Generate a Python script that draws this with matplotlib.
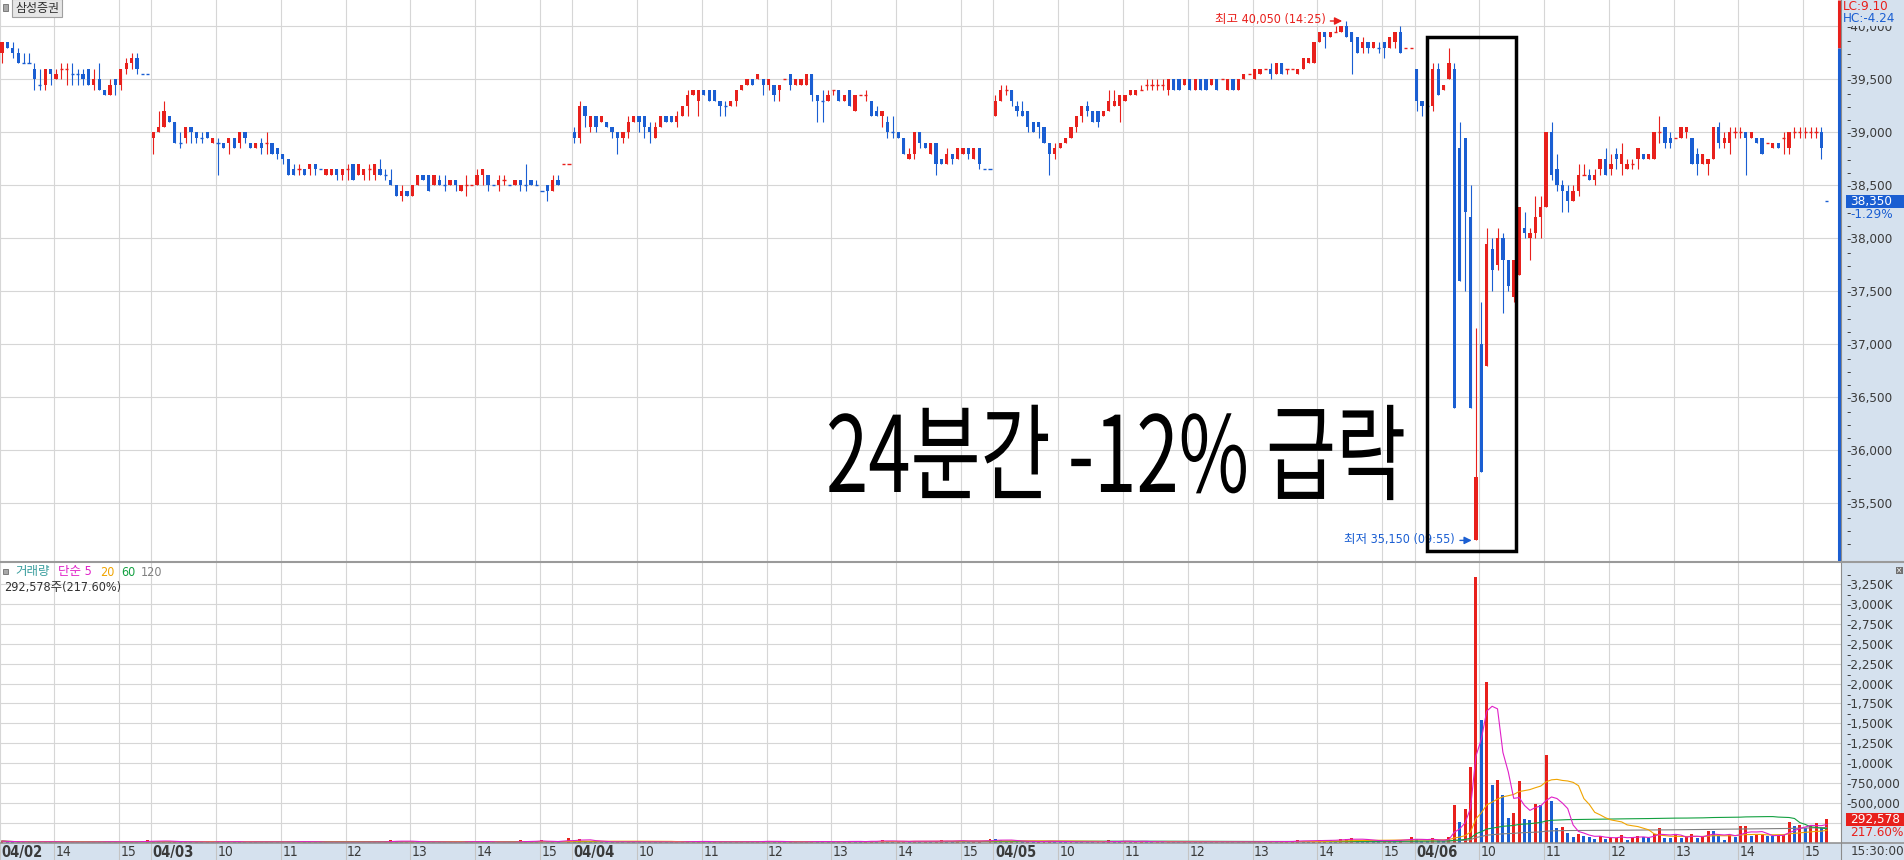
import numpy as np
import pandas as pd
import matplotlib
matplotlib.use("Agg")
import matplotlib.pyplot as plt
import matplotlib.transforms as mtransforms
from matplotlib.patches import Rectangle
from matplotlib.lines import Line2D
from matplotlib.ticker import FixedLocator, FuncFormatter
from matplotlib.patheffects import AbstractPathEffect
from matplotlib import font_manager

# ---------------- data (5-minute candles, Samsung Securities) ----------------
day_labels = ["04/02", "04/03", "04/04", "04/05", "04/06"]
day_first_time = ["13:10", "09:00", "09:00", "09:00", "09:00"]
day_slots = [28, 78, 78, 78, 78]

# (open, high, low, close) per 5-minute candle
ohlc_0402 = [
    (39750, 39850, 39650, 39850), (39850, 39850, 39800, 39800), (39800, 39850, 39700, 39750),
    (39750, 39800, 39650, 39650), (39650, 39750, 39650, 39650), (39650, 39750, 39650, 39650),
    (39600, 39650, 39400, 39500), (39450, 39600, 39400, 39450), (39450, 39600, 39400, 39600),
    (39600, 39600, 39450, 39550), (39500, 39600, 39500, 39550), (39600, 39650, 39500, 39600),
    (39600, 39650, 39450, 39600), (39550, 39650, 39450, 39550), (39550, 39600, 39450, 39550),
    (39550, 39600, 39450, 39500), (39600, 39600, 39450, 39450), (39450, 39600, 39400, 39500),
    (39500, 39650, 39400, 39400), (39400, 39400, 39350, 39350), (39350, 39500, 39350, 39450),
    (39500, 39500, 39350, 39450), (39450, 39600, 39400, 39600), (39600, 39700, 39550, 39650),
    (39650, 39750, 39600, 39700), (39700, 39750, 39550, 39600),
]
ohlc_0403 = [
    (38950, 39000, 38800, 39000), (39000, 39200, 39000, 39050), (39050, 39300, 39050, 39200),
    (39150, 39150, 39100, 39100), (39100, 39100, 38900, 38900), (38900, 39000, 38850, 38900),
    (38950, 39050, 38900, 39050), (39050, 39050, 38900, 39000), (39000, 39000, 38900, 38950),
    (38950, 39000, 38900, 38950), (39000, 39000, 38950, 38950), (38900, 38950, 38900, 38950),
    (38900, 38950, 38600, 38900), (38900, 38900, 38850, 38850), (38900, 38950, 38800, 38950),
    (38950, 38950, 38850, 38850), (38900, 39000, 38850, 39000), (39000, 39000, 38900, 38950),
    (38900, 38900, 38850, 38850), (38850, 38900, 38850, 38900), (38900, 38950, 38800, 38850),
    (38900, 39000, 38800, 38900), (38900, 38900, 38800, 38800), (38850, 38850, 38750, 38800),
    (38800, 38800, 38700, 38750), (38750, 38750, 38600, 38600), (38650, 38700, 38600, 38600),
    (38650, 38700, 38600, 38650), (38650, 38650, 38600, 38600), (38650, 38700, 38600, 38700),
    (38700, 38700, 38600, 38650), (38650, 38650, 38650, 38650), (38600, 38650, 38600, 38650),
    (38600, 38650, 38600, 38650), (38650, 38650, 38550, 38600), (38600, 38650, 38550, 38650),
    (38650, 38700, 38550, 38650), (38700, 38700, 38550, 38550), (38600, 38700, 38600, 38700),
    (38600, 38650, 38550, 38650), (38650, 38700, 38550, 38650), (38600, 38700, 38550, 38700),
    (38650, 38750, 38600, 38600), (38600, 38650, 38550, 38600), (38550, 38650, 38500, 38500),
    (38500, 38500, 38400, 38400), (38400, 38500, 38350, 38450), (38450, 38450, 38400, 38400),
    (38400, 38500, 38400, 38500), (38500, 38600, 38500, 38600), (38600, 38600, 38550, 38550),
    (38600, 38600, 38450, 38450), (38500, 38600, 38500, 38600), (38550, 38600, 38500, 38500),
    (38500, 38600, 38450, 38500), (38500, 38550, 38500, 38550), (38550, 38550, 38450, 38500),
    (38450, 38500, 38450, 38500), (38500, 38600, 38400, 38500), (38500, 38500, 38500, 38500),
    (38500, 38650, 38500, 38600), (38600, 38650, 38500, 38650), (38600, 38600, 38450, 38500),
    (38500, 38500, 38500, 38500), (38500, 38600, 38450, 38550), (38550, 38600, 38500, 38550),
    (38500, 38500, 38500, 38500), (38500, 38550, 38500, 38550), (38550, 38550, 38450, 38500),
    (38500, 38700, 38450, 38500), (38550, 38550, 38500, 38500), (38500, 38550, 38500, 38500),
    (38450, 38450, 38450, 38450), (38500, 38500, 38350, 38450), (38450, 38600, 38450, 38550),
    (38550, 38600, 38500, 38500),
]
ohlc_0404 = [
    (39000, 39050, 38900, 38950), (38950, 39300, 38900, 39250), (39250, 39250, 39050, 39150),
    (39050, 39150, 39000, 39150), (39150, 39150, 39000, 39050), (39100, 39150, 39100, 39150),
    (39100, 39100, 39050, 39050), (39050, 39050, 38950, 39000), (39000, 39000, 38800, 38950),
    (38950, 39000, 38900, 39000), (39000, 39150, 38950, 39100), (39100, 39150, 39100, 39150),
    (39150, 39150, 39000, 39100), (39150, 39150, 38950, 39050), (39050, 39100, 38900, 39000),
    (38950, 39100, 38950, 39050), (39050, 39150, 39050, 39150), (39150, 39150, 39100, 39100),
    (39150, 39150, 39100, 39100), (39100, 39200, 39050, 39150), (39150, 39250, 39150, 39250),
    (39250, 39400, 39150, 39350), (39350, 39400, 39350, 39400), (39300, 39400, 39150, 39400),
    (39400, 39400, 39350, 39350), (39400, 39400, 39300, 39300), (39400, 39400, 39300, 39300),
    (39300, 39300, 39150, 39250), (39250, 39300, 39150, 39250), (39250, 39300, 39250, 39300),
    (39300, 39400, 39250, 39400), (39400, 39450, 39400, 39450), (39450, 39500, 39450, 39500),
    (39500, 39500, 39450, 39450), (39500, 39550, 39500, 39550), (39500, 39500, 39350, 39450),
    (39450, 39500, 39400, 39500), (39450, 39450, 39300, 39350), (39400, 39450, 39300, 39450),
    (39500, 39500, 39500, 39500), (39550, 39550, 39400, 39450), (39450, 39500, 39450, 39500),
    (39450, 39500, 39450, 39500), (39450, 39550, 39450, 39550), (39550, 39550, 39300, 39350),
    (39350, 39350, 39100, 39300), (39300, 39400, 39100, 39300), (39300, 39400, 39300, 39350),
    (39400, 39400, 39350, 39400), (39400, 39400, 39300, 39300), (39300, 39350, 39300, 39350),
    (39400, 39400, 39250, 39250), (39200, 39350, 39200, 39350), (39350, 39350, 39350, 39350),
    (39350, 39400, 39300, 39350), (39300, 39300, 39150, 39150), (39200, 39250, 39150, 39150),
    (39150, 39200, 39050, 39200), (39100, 39150, 38950, 39000), (39000, 39150, 38950, 39000),
    (39000, 39000, 38950, 38950), (38950, 38950, 38800, 38800), (38750, 38850, 38750, 38800),
    (38800, 39000, 38750, 39000), (39000, 39000, 38850, 38900), (38900, 38900, 38850, 38850),
    (38800, 38900, 38800, 38900), (38900, 38900, 38600, 38700), (38750, 38750, 38700, 38700),
    (38700, 38850, 38700, 38800), (38800, 38800, 38700, 38750), (38750, 38850, 38750, 38850),
    (38800, 38850, 38800, 38850), (38850, 38850, 38750, 38800), (38750, 38850, 38750, 38850),
    (38850, 38850, 38650, 38700),
]
ohlc_0405 = [
    (39150, 39350, 39150, 39300), (39300, 39450, 39300, 39400), (39400, 39450, 39350, 39400),
    (39400, 39400, 39250, 39300), (39250, 39300, 39150, 39200), (39200, 39300, 39150, 39150),
    (39200, 39200, 39000, 39050), (39100, 39100, 39000, 39000), (39100, 39100, 38950, 39050),
    (39050, 39050, 38900, 38900), (38900, 38900, 38600, 38800), (38800, 38900, 38750, 38850),
    (38850, 38900, 38850, 38900), (38900, 38950, 38900, 38950), (38950, 39050, 38950, 39050),
    (39050, 39150, 39000, 39150), (39150, 39250, 39100, 39250), (39250, 39300, 39150, 39200),
    (39200, 39200, 39100, 39100), (39200, 39200, 39050, 39100), (39150, 39200, 39150, 39200),
    (39200, 39400, 39200, 39300), (39250, 39400, 39250, 39300), (39250, 39350, 39100, 39350),
    (39300, 39350, 39300, 39350), (39350, 39400, 39350, 39400), (39350, 39400, 39350, 39400),
    (39400, 39450, 39400, 39400), (39450, 39500, 39400, 39450), (39450, 39500, 39400, 39450),
    (39450, 39500, 39400, 39450), (39450, 39500, 39400, 39450), (39400, 39500, 39350, 39500),
    (39500, 39500, 39400, 39400), (39500, 39500, 39400, 39400), (39450, 39500, 39450, 39500),
    (39500, 39500, 39400, 39400), (39400, 39500, 39400, 39500), (39500, 39500, 39400, 39400),
    (39500, 39500, 39400, 39400), (39450, 39500, 39450, 39500), (39500, 39500, 39400, 39400),
    (39500, 39500, 39500, 39500), (39400, 39500, 39400, 39500), (39500, 39500, 39400, 39400),
    (39400, 39500, 39400, 39500), (39500, 39550, 39500, 39550), (39550, 39550, 39550, 39550),
    (39500, 39600, 39500, 39600), (39550, 39600, 39550, 39600), (39600, 39600, 39600, 39600),
    (39600, 39650, 39500, 39550), (39550, 39650, 39550, 39650), (39650, 39650, 39550, 39550),
    (39600, 39600, 39550, 39600), (39600, 39600, 39600, 39600), (39550, 39600, 39550, 39600),
    (39600, 39700, 39600, 39700), (39650, 39700, 39650, 39700), (39650, 39850, 39650, 39850),
    (39850, 39950, 39850, 39950), (39950, 39950, 39800, 39900), (39900, 39950, 39900, 39950),
    (39950, 40000, 39950, 39950), (39950, 40000, 39950, 40000), (40000, 40050, 39900, 39900),
    (39950, 39950, 39550, 39850), (39900, 39900, 39750, 39750), (39800, 39900, 39750, 39850),
    (39850, 39850, 39750, 39800), (39800, 39850, 39800, 39850), (39800, 39850, 39750, 39800),
    (39850, 39850, 39700, 39800), (39800, 39900, 39800, 39900), (39850, 39950, 39800, 39950),
    (39950, 40000, 39750, 39750),
]
ohlc_0406 = [
    (39600, 39600, 39200, 39300), (39300, 39300, 39150, 39250), (39250, 39250, 39250, 39250),
    (39250, 39650, 39200, 39600), (39600, 39650, 39350, 39350), (39400, 39450, 39400, 39450),
    (39500, 39800, 39500, 39650), (39600, 39650, 36400, 36400), (38850, 39100, 37600, 37600),
    (38950, 38950, 37500, 38250), (38200, 38500, 36400, 36400), (35150, 37150, 35150, 35750),
    (37000, 37400, 35800, 35800), (36800, 38100, 36800, 37950), (37900, 38000, 37500, 37700),
    (37750, 38100, 37700, 38000), (38000, 38050, 37300, 37800), (37800, 37800, 37500, 37550),
    (37450, 37800, 37400, 37800), (37650, 38300, 37650, 38300), (38100, 38250, 38000, 38050),
    (38000, 38100, 37800, 38050), (38050, 38400, 38000, 38200), (38200, 38400, 38000, 38300),
    (38300, 39000, 38300, 39000), (39000, 39100, 38550, 38600), (38650, 38800, 38450, 38500),
    (38500, 38550, 38250, 38450), (38450, 38500, 38250, 38350), (38350, 38500, 38350, 38450),
    (38450, 38700, 38400, 38600), (38600, 38700, 38600, 38600), (38600, 38650, 38550, 38550),
    (38550, 38650, 38500, 38600), (38650, 38750, 38600, 38750), (38750, 38850, 38600, 38600),
    (38650, 38800, 38600, 38700), (38800, 38850, 38650, 38750), (38700, 38900, 38600, 38800),
    (38650, 38750, 38650, 38700), (38700, 38750, 38650, 38700), (38750, 38850, 38650, 38850),
    (38800, 38800, 38750, 38750), (38750, 38800, 38750, 38800), (38750, 39000, 38750, 39000),
    (39000, 39150, 38900, 39000), (39050, 39050, 38850, 38900), (38950, 39000, 38850, 38900),
    (38950, 38950, 38950, 38950), (38950, 39050, 38950, 39050), (39000, 39050, 38950, 39050),
    (38950, 38950, 38700, 38700), (38800, 38850, 38600, 38700), (38700, 38800, 38700, 38800),
    (38700, 38750, 38600, 38750), (38750, 39050, 38750, 39050), (39050, 39100, 38850, 38900),
    (38900, 39000, 38850, 38950), (38900, 39050, 38800, 39000), (39000, 39050, 38950, 39000),
    (39000, 39050, 38950, 39000), (39000, 39000, 38600, 38950), (38950, 39000, 38950, 39000),
    (38950, 38950, 38900, 38900), (38950, 38950, 38800, 38800), (38900, 38900, 38900, 38900),
    (38850, 38900, 38850, 38900), (38900, 38900, 38850, 38850), (38950, 39000, 38800, 38950),
    (38850, 39000, 38800, 39000), (39000, 39050, 38950, 39000), (39000, 39050, 38950, 39000),
    (39000, 39050, 38950, 39000), (39000, 39050, 38950, 39000), (39000, 39050, 38950, 39000),
    (39000, 39050, 38750, 38850),
]
# closing single-price (15:20~) marks
close_auction = [39550, 38700, 38650, 39800, 38350]
n_auction = [2, 2, 2, 2, 1]

# volume per slot, thousand shares (candles followed by the closing slots)
vol_0402 = [18, 10, 8, 6, 5, 4, 14, 9, 10, 6, 5, 4, 5, 6, 3, 4, 6, 8, 10, 12,
            9, 7, 12, 8, 10, 9, 0, 30]
vol_0403 = [20, 15, 18, 8, 12, 6, 8, 5, 6, 4, 5, 4, 25, 6, 8, 5, 9, 6, 5, 4, 7, 8, 6, 5,
            7, 10, 9, 22, 6, 5, 4, 3, 4, 3, 5, 4, 5, 4, 6, 5, 3, 6, 8, 10, 30, 20, 15, 8,
            10, 9, 6, 7, 5, 4, 4, 3, 5, 4, 20, 18, 6, 8, 5, 3, 4, 4, 3, 5, 30, 15, 20, 6,
            30, 10, 8, 6, 0, 60]
vol_0404 = [35, 40, 20, 12, 10, 8, 7, 6, 12, 8, 10, 9, 8, 7, 9, 6, 8, 5, 4, 6, 10, 22, 12, 14,
            8, 7, 9, 10, 6, 5, 8, 10, 12, 8, 10, 24, 20, 6, 8, 5, 6, 7, 9, 10, 18, 12, 10, 8,
            6, 20, 8, 22, 10, 8, 9, 25, 22, 30, 12, 10, 14, 18, 16, 25, 12, 22, 10, 14, 28, 20, 18, 25,
            22, 12, 15, 18, 0, 45]
vol_0405 = [40, 30, 18, 20, 15, 12, 14, 10, 12, 15, 25, 10, 8, 7, 10, 9, 8, 7, 6, 8, 7, 28, 9, 8,
            25, 8, 10, 22, 6, 5, 7, 6, 8, 6, 5, 7, 6, 5, 7, 6, 5, 8, 6, 7, 6, 5, 9, 8,
            10, 12, 9, 11, 10, 12, 14, 16, 30, 25, 20, 22, 28, 35, 30, 25, 45, 50, 55, 30, 28, 25, 22, 20,
            25, 30, 28, 35, 0, 70]
vol_0406 = [40, 25, 15, 55, 35, 20, 70, 468, 264, 417, 949, 3338, 1540, 2024, 723, 787, 596,
            306, 366, 774, 290, 285, 481, 475, 1106, 519, 188, 200, 124, 73, 111, 85, 73, 47,
            82, 47, 60, 62, 98, 34, 60, 85, 75, 60, 111, 188, 60, 55, 100, 60, 65, 110, 60, 65,
            149, 145, 80, 34, 100, 70, 204, 213, 80, 95, 96, 80, 78, 95, 100, 264, 204, 222, 184,
            204, 251, 200, 292.578]

ohlc_days = [ohlc_0402, ohlc_0403, ohlc_0404, ohlc_0405, ohlc_0406]
vol_days = [vol_0402, vol_0403, vol_0404, vol_0405, vol_0406]

# ---------------- style ----------------
RED = "#e8201c"
BLUE = "#1a5ed2"
GRID = "#d6d6d6"
STRIP = "#d5e1ee"
TXT = "#3a3a3a"
MA_COLORS = {5: "#e020c8", 20: "#f0a400", 60: "#12a040", 120: "#808080"}

installed = {f.name for f in font_manager.fontManager.ttflist}
NARROW = "Liberation Sans Narrow" if "Liberation Sans Narrow" in installed else "DejaVu Sans"
plt.rcParams["font.family"] = [NARROW, "Noto Sans CJK KR", "DejaVu Sans"]
plt.rcParams["font.stretch"] = "condensed"

W, H = 1904, 860
SLOT_PX = 5.399
PLOT_R = 1841.0
PRICE_BOT = 561.0
VOL_TOP, VOL_BOT = 563.0, 842.5
WON_PX = 500 / 53.0
V_PX = 250000 / 19.86

# ---------------- build slot arrays ----------------
xs, O, Hh, Ll, C, dash = [], [], [], [], [], []
vx, V = [], []
grid_x, grid_txt, grid_bold = [], [], []
start = 0
for d in range(5):
    rows = ohlc_days[d]
    for j, (o, h, l, c) in enumerate(rows):
        xs.append(start + j + 0.37)
        O.append(o); Hh.append(h); Ll.append(l); C.append(c); dash.append(False)
    for j in range(n_auction[d]):
        p = close_auction[d]
        xs.append(start + len(rows) + j + 0.37)
        O.append(p); Hh.append(p); Ll.append(p); C.append(p); dash.append(True)
    assert len(vol_days[d]) == len(rows) + n_auction[d], d
    for j, v in enumerate(vol_days[d]):
        vx.append(start + j + 0.37)
        V.append(v * 1000)
    hh, mm = day_first_time[d].split(":")
    t0 = int(hh) * 60 + int(mm)
    for j in range(day_slots[d]):
        t = t0 + 5 * j
        if j == 0:
            grid_x.append(start); grid_txt.append(day_labels[d]); grid_bold.append(True)
        elif t % 60 == 0:
            grid_x.append(start + j); grid_txt.append(str(t // 60)); grid_bold.append(False)
    start += day_slots[d]

xs = np.array(xs); O = np.array(O, float); Hh = np.array(Hh, float)
Ll = np.array(Ll, float); C = np.array(C, float); dash = np.array(dash)
vx = np.array(vx); V = np.array(V, float)

# candle colours: up red, down blue, flat -> against previous close
cols = []
prev_c, prev_col = None, RED
for o, c in zip(O, C):
    if c > o:
        col = RED
    elif c < o:
        col = BLUE
    elif prev_c is None or c == prev_c:
        col = prev_col
    else:
        col = RED if c > prev_c else BLUE
    cols.append(col)
    prev_c, prev_col = c, col
cols = np.array(cols)

# volume colours: more than previous bar red, less blue
vcols = []
prev_v, prev_col = None, RED
for v in V:
    if prev_v is None or v == prev_v:
        col = prev_col
    else:
        col = RED if v > prev_v else BLUE
    vcols.append(col)
    if v > 0:
        prev_v, prev_col = v, col
vcols = np.array(vcols)

# ---------------- figure ----------------
fig = plt.figure(figsize=(W / 100, H / 100), dpi=100)
fig.patch.set_facecolor("white")


def fx(px):
    return px / W


def fy(py):
    return 1 - py / H


ax = fig.add_axes([0, fy(PRICE_BOT), fx(PLOT_R), PRICE_BOT / H])
ax2 = fig.add_axes([0, fy(VOL_BOT), fx(PLOT_R), (VOL_BOT - VOL_TOP) / H])
xmax = PLOT_R / SLOT_PX
for a in (ax, ax2):
    a.set_xlim(0, xmax)
    a.set_facecolor("white")
    for sp in a.spines.values():
        sp.set_visible(False)
ax.set_ylim(40000 - (PRICE_BOT - 26.3) * WON_PX, 40000 + 26.3 * WON_PX)
ax2.set_ylim(0, (VOL_BOT - VOL_TOP) * V_PX)

# strips
fig.add_artist(Rectangle((fx(PLOT_R), 0), 1 - fx(PLOT_R), 1, transform=fig.transFigure,
                         fc=STRIP, ec="none", zorder=-1))
fig.add_artist(Rectangle((0, 0), 1, 1 - fy(VOL_BOT), transform=fig.transFigure,
                         fc=STRIP, ec="none", zorder=-1))

# grid
for gx in grid_x:
    ax.axvline(gx, color=GRID, lw=0.8, zorder=0)
    ax2.axvline(gx, color=GRID, lw=0.8, zorder=0)
for p in range(35500, 40001, 500):
    ax.axhline(p, color=GRID, lw=0.8, zorder=0)
for v in range(250000, 3250001, 250000):
    ax2.axhline(v, color=GRID, lw=0.8, zorder=0)

# candles
lo = np.minimum(Ll, np.minimum(O, C))
hi = np.maximum(Hh, np.maximum(O, C))
real = ~dash
ax.vlines(xs[real], lo[real], hi[real], colors=cols[real], lw=0.8, zorder=2)
body = C != O
ax.bar(xs[body], np.abs(C - O)[body], bottom=np.minimum(O, C)[body], width=0.6,
       color=cols[body], lw=0, zorder=3)
flat = ~body
ax.hlines(C[flat], xs[flat] - 0.3, xs[flat] + 0.3, colors=cols[flat], lw=1.0, zorder=3)

# volume bars + moving averages
has_v = V > 0
ax2.bar(vx[has_v], V[has_v], width=0.55, color=vcols[has_v], lw=0, zorder=2)
vs = pd.Series(V[has_v], index=vx[has_v])
for n in (120, 60, 20, 5):
    ma = vs.rolling(n, min_periods=1).mean()
    ax2.plot(ma.index, ma.values, color=MA_COLORS[n], lw=0.8, zorder=4)

# axis ticks (HTS style "-label" on the right strip)
ax.yaxis.tick_right()
ax.yaxis.set_major_locator(FixedLocator(list(range(35500, 40001, 500))))
ax.yaxis.set_major_formatter(FuncFormatter(lambda v, p: f"-{int(v):,}"))
ax.yaxis.set_minor_locator(FixedLocator(list(range(35125, 39900, 125))))
ax.yaxis.set_minor_formatter(FuncFormatter(lambda v, p: "-"))
ax.tick_params(axis="y", which="both", length=0, pad=3.6, labelsize=9.6, labelcolor=TXT)
ax.tick_params(axis="x", which="both", bottom=False, labelbottom=False)


def vol_label(v, p):
    v = int(round(v))
    return f"-{v:,}" if v < 1000000 else f"-{v // 1000:,}K"


ax2.yaxis.tick_right()
ax2.yaxis.set_major_locator(FixedLocator(list(range(500000, 3250001, 250000))))
ax2.yaxis.set_major_formatter(FuncFormatter(vol_label))
ax2.yaxis.set_minor_locator(FixedLocator(list(range(375000, 3375001, 125000))))
ax2.yaxis.set_minor_formatter(FuncFormatter(lambda v, p: "-"))
ax2.tick_params(axis="y", which="both", length=0, pad=3.6, labelsize=9.6, labelcolor=TXT)
ax2.xaxis.set_major_locator(FixedLocator(grid_x))
ax2.tick_params(axis="x", which="major", direction="out", length=12.6, width=0.8,
                color="#c4c4c4", labelbottom=False)

# time labels in bottom strip
lab_tr = mtransforms.offset_copy(ax2.get_xaxis_transform(), fig=fig, x=1.5, y=-9.5, units="dots")
for gx, t, b in zip(grid_x, grid_txt, grid_bold):
    ax2.text(gx, 0, t, transform=lab_tr, ha="left", va="center", fontsize=10.5 if b else 10,
             fontweight="bold" if b else "normal", color=TXT, clip_on=False)

# separator lines
fig.add_artist(Line2D([fx(PLOT_R), fx(PLOT_R)], [0, 1], transform=fig.transFigure,
                      color="#8c8c8c", lw=0.8, zorder=5))
fig.add_artist(Line2D([0, 1], [fy(562.3), fy(562.3)], transform=fig.transFigure,
                      color="#9a9a9a", lw=1.5, zorder=5))
fig.add_artist(Line2D([0, 1], [fy(VOL_BOT), fy(VOL_BOT)], transform=fig.transFigure,
                      color="#8c8c8c", lw=1.1, zorder=5))

# current-price bar at right edge of price panel
prev_close = close_auction[3]
bar_x = (PLOT_R - 2.5) / PLOT_R
ytr = ax.get_yaxis_transform()
ax.vlines(bar_x, prev_close, ax.get_ylim()[1], transform=ytr, colors=RED, lw=2.2, zorder=5, clip_on=False)
ax.vlines(bar_x, ax.get_ylim()[0], prev_close, transform=ytr, colors=BLUE, lw=2.2, zorder=5, clip_on=False)


def ftext(x, y, s, **kw):
    kw.setdefault("va", "center")
    kw.setdefault("fontsize", 9.6)
    return fig.text(fx(x), fy(y), s, **kw)


ftext(1843, 6.5, "LC:9.10", color=RED, zorder=6)
ftext(1843, 18.5, "HC:-4.24", color=BLUE, zorder=6,
      bbox=dict(boxstyle="square,pad=0.05", fc=STRIP, ec="none"))

# last price box
last = C[-1]
y_last = H - ax.transData.transform((0, last))[1]
fig.add_artist(Rectangle((fx(1846), fy(y_last + 6.3)), 1 - fx(1846), 12.6 / H,
                         transform=fig.transFigure, fc=BLUE, ec="none", zorder=6))
ftext(1850, y_last, f"{int(last):,}", color="white", zorder=7)
ftext(1850, y_last + 13, "-1.29%", color=BLUE, zorder=7)

# last volume box
y_lv = H - ax2.transData.transform((0, V[-1]))[1]
fig.add_artist(Rectangle((fx(1846), fy(y_lv + 6.5)), 1 - fx(1846), 13 / H,
                         transform=fig.transFigure, fc=RED, ec="none", zorder=6))
ftext(1850, y_lv, f"{int(V[-1]):,}", color="white", zorder=7)
ftext(1850, y_lv + 13, "217.60%", color=RED, zorder=7)
ftext(1851, 851.5, "15:30:00", color=TXT)

# close button of volume pane
fig.add_artist(Rectangle((fx(1895.5), fy(574)), 7 / W, 7 / H, transform=fig.transFigure,
                         fc="#707070", ec="none", zorder=6))
ftext(1899, 570.3, "×", color="white", fontsize=6, ha="center", zorder=7,
      family="DejaVu Sans")

# title box
fig.add_artist(Rectangle((fx(3.3), fy(10.5)), 4.5 / W, 6.5 / H, transform=fig.transFigure,
                         fc="#a8a8a8", ec="#6e6e6e", lw=0.6, zorder=6))
ftext(37, 8.2, "삼성증권", color="#303030", fontsize=8.6, ha="center", zorder=6,
      bbox=dict(boxstyle="square,pad=0.22", fc="#e6e6e6", ec="#a0a0a0", lw=0.8))

# volume legend
fig.add_artist(Rectangle((fx(3.3), fy(574.3)), 4.5 / W, 5.5 / H, transform=fig.transFigure,
                         fc="#a8a8a8", ec="#6e6e6e", lw=0.6, zorder=6))
leg = [(15, "거래량", "#3a9e9e"), (58, "단순 5", MA_COLORS[5]), (100, "20", MA_COLORS[20]),
       (121, "60", MA_COLORS[60]), (141, "120", MA_COLORS[120])]
for x0, s, c in leg:
    ftext(x0, 572, s, color=c, fontsize=9, zorder=6)
ftext(4, 587, "292,578주(217.60%)", color="#303030", fontsize=9, zorder=6)

# high / low annotations
i_hi = int(np.argmax(np.where(dash, -1, Hh)))
i_lo = int(np.argmin(np.where(dash, 1e9, Ll)))
for i, val, txt, col in [(i_hi, Hh[i_hi], "최고 40,050 (14:25)", RED),
                         (i_lo, Ll[i_lo], "최저 35,150 (09:55)", BLUE)]:
    ax.annotate("", xy=(xs[i], val), xycoords="data", xytext=(-16, 0), textcoords="offset pixels",
                arrowprops=dict(arrowstyle="-|>", color=col, lw=1.0, shrinkA=0, shrinkB=3,
                                mutation_scale=11), zorder=6)
    ax.annotate(txt, xy=(xs[i], val), xycoords="data", xytext=(-21, 1), textcoords="offset pixels",
                ha="right", va="center", color=col, fontsize=9, zorder=6)

# highlight box around the crash
ax.add_patch(Rectangle((1426.7 / SLOT_PX, 40000 - (550.5 - 26.3) * WON_PX),
                       (1516 - 1426.7) / SLOT_PX, (550.5 - 37.4) * WON_PX,
                       fill=False, ec="black", lw=2.5, zorder=7, clip_on=False))


class HSqueeze(AbstractPathEffect):
    """draw text glyphs narrowed horizontally around x0 (display px)"""

    def __init__(self, sx, x0):
        super().__init__()
        self.sx, self.x0 = sx, x0

    def draw_path(self, renderer, gc, tpath, affine, rgbFace=None):
        sq = mtransforms.Affine2D().translate(-self.x0, 0).scale(self.sx, 1).translate(self.x0, 0)
        renderer.draw_path(gc, tpath, affine + sq, rgbFace)


BIG_LEFT, BIG_W = 826, 580
big = ax.text(BIG_LEFT / SLOT_PX, 40000 - (492 - 26.3) * WON_PX, "24분간 -12% 급락",
              family="Noto Sans CJK KR", fontsize=76, fontweight="light", ha="left",
              va="baseline", color="black", zorder=7)
fig.canvas.draw()
bw = big.get_window_extent().width
big.set_path_effects([HSqueeze(BIG_W / bw, BIG_LEFT)])

fig.savefig("out.png", dpi=100, facecolor="white")
